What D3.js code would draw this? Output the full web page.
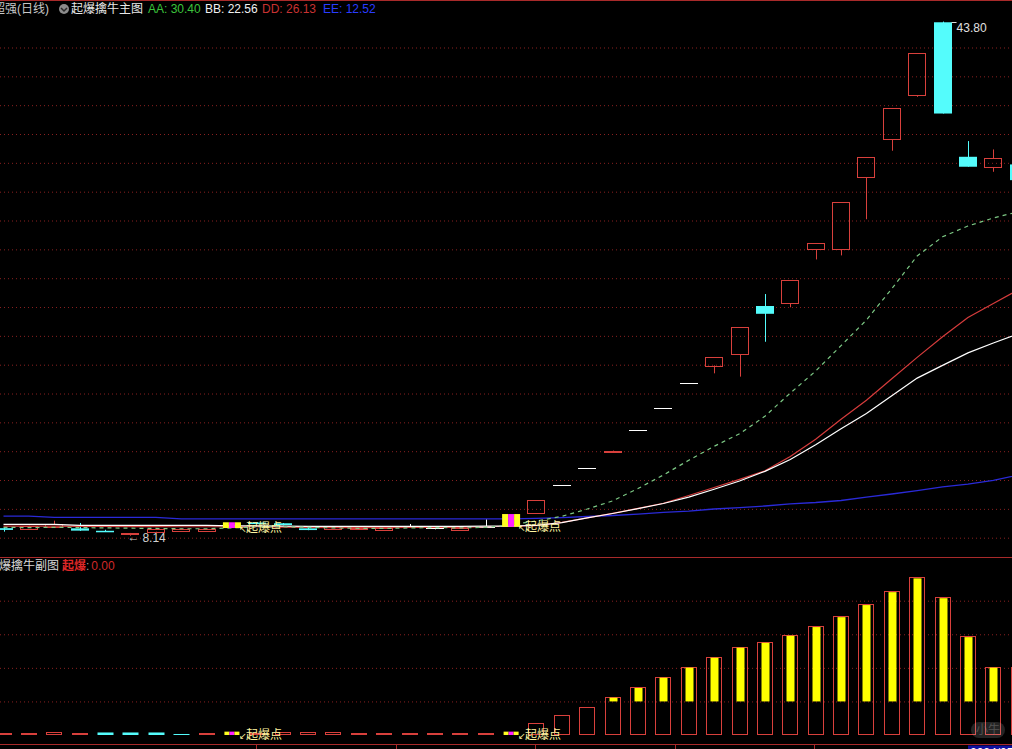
<!DOCTYPE html>
<html>
<head>
<meta charset="utf-8">
<script src="https://cdn.jsdelivr.net/npm/d3@7"></script>
<style>
body { margin: 0; background: #000; overflow: hidden; }
svg { display: block; }
text { font-family: "Liberation Sans", "Noto Sans CJK SC", sans-serif; font-size: 12px; }
</style>
</head>
<body>
<div class="chart"></div>
<script>
var opens  = [8.66, 8.58, 8.69, 8.65, 8.48, 8.21, 8.42, 8.44, 8.42, 8.67, 9.05, 9.00, 8.65, 8.58, 8.66, 8.53, 8.76, 8.69, 8.53, 8.76,
              8.76, 9.73, 11.64, 12.81, 14.01, 15.45, 16.97, 18.71, 19.95, 20.72, 24.07, 24.25, 27.99, 27.99, 33.01, 35.63, 38.70, 43.75, 34.42, 33.66, 33.89];
var highs  = [8.70, 8.83, 9.18, 9.02, 8.55, 8.33, 8.62, 8.62, 8.60, 9.07, 9.08, 9.02, 8.68, 8.76, 8.72, 8.67, 8.95, 8.81, 8.67, 9.28,
              9.64, 10.61, 11.64, 12.81, 14.07, 15.45, 16.97, 18.71, 20.55, 22.59, 24.90, 25.86, 28.41, 31.26, 34.40, 37.77, 41.59, 43.80, 35.51, 34.93, 33.89];
var lows   = [8.42, 8.56, 8.67, 8.47, 8.40, 8.14, 8.40, 8.42, 8.40, 8.67, 8.96, 8.86, 8.52, 8.56, 8.63, 8.51, 8.74, 8.58, 8.51, 8.74,
              8.76, 9.73, 11.64, 12.81, 13.98, 15.45, 16.97, 18.71, 19.40, 19.17, 21.59, 23.98, 27.30, 27.58, 30.09, 34.84, 38.58, 37.42, 33.73, 33.38, 32.80];
var closes = [8.54, 8.81, 8.93, 8.49, 8.44, 8.31, 8.60, 8.60, 8.58, 9.07, 8.98, 8.88, 8.53, 8.74, 8.69, 8.65, 8.76, 8.69, 8.65, 8.76,
              9.64, 10.61, 11.64, 12.81, 14.04, 15.45, 16.97, 18.71, 20.55, 22.59, 23.53, 25.86, 28.41, 31.26, 34.40, 37.77, 41.59, 37.42, 33.73, 34.31, 32.80];

var lineAA = [8.72, 8.70, 8.72, 8.70, 8.68, 8.66, 8.64, 8.62, 8.62, 8.68, 8.74, 8.76, 8.72, 8.68, 8.65, 8.64, 8.68, 8.70, 8.68, 8.72,
              8.90, 9.16, 9.48, 9.99, 10.55, 11.41, 12.35, 13.37, 14.34, 15.21, 16.42, 18.03, 19.56, 21.32, 23.10, 25.27, 27.54, 28.87, 29.62, 30.17, 30.62];
var lineBB = [8.93, 8.93, 8.93, 8.86, 8.86, 8.86, 8.86, 8.86, 8.86, 8.82, 8.82, 8.80, 8.78, 8.78, 8.78, 8.78, 8.78, 8.78, 8.78, 8.80,
              8.81, 8.86, 9.05, 9.37, 9.68, 10.02, 10.37, 10.81, 11.36, 11.93, 12.60, 13.42, 14.44, 15.56, 16.61, 17.85, 19.07, 19.95, 20.82, 21.50, 22.16];
var lineDD = [8.80, 8.80, 8.80, 8.79, 8.78, 8.77, 8.77, 8.76, 8.76, 8.76, 8.76, 8.74, 8.72, 8.70, 8.70, 8.70, 8.71, 8.71, 8.72, 8.76,
              8.80, 8.84, 9.06, 9.37, 9.69, 10.04, 10.39, 10.93, 11.48, 12.05, 12.64, 13.63, 14.83, 16.22, 17.54, 19.03, 20.51, 21.94, 23.27, 24.25, 25.21];
var lineEE = [9.50, 9.50, 9.41, 9.41, 9.41, 9.41, 9.41, 9.30, 9.30, 9.30, 9.30, 9.30, 9.30, 9.30, 9.30, 9.30, 9.30, 9.30, 9.30, 9.30,
              9.31, 9.34, 9.39, 9.47, 9.54, 9.64, 9.75, 9.85, 9.99, 10.09, 10.20, 10.34, 10.44, 10.58, 10.82, 11.03, 11.27, 11.52, 11.72, 11.97, 12.35];

var subValues = [1.2, 1.2, 2.0, 1.2, 1.5, 1.5, 1.5, 0.6, 1.2, 2.0, 1.2, 2.0, 2.0, 2.0, 1.2, 1.2, 1.2, 1.2, 1.2, 1.2,
                 2.0, 7.0, 11.9, 16.8, 22.8, 28.6, 34.7, 40.7, 46.6, 52.6, 55.5, 59.7, 64.9, 70.8, 78.0, 85.7, 93.9, 82.1, 58.9, 40.7, 40.5];
var subDown = [4, 5, 6, 7];
var subThreshold = 20;
var burstBars = [9, 20];

var priceTicks = [8, 10, 12, 14, 16, 18, 20, 22, 24, 26, 28, 30, 32, 34, 36, 38, 40, 42];
var subTicks = [20, 40, 60, 80];
var dateTicks = [9.95, 15.45, 20.95, 26.45, 31.95];

var legendNames = ["AA", "BB", "DD", "EE"];
var legendValues = [30.40, 22.56, 26.13, 12.52];

var width = 1012, height = 749;
var RED = "#d8403c", CYAN = "#54fcfc", GRID = "#8a2020", FRAME = "#a82a2a";

var svg = d3.select(".chart").append("svg").attr("width", width).attr("height", height);
svg.append("rect").attr("width", width).attr("height", height).attr("fill", "#000");

var xScale = d3.scaleLinear().domain([0, 40]).range([3.5, 1018.7]);
var yScale = d3.scaleLinear().domain([8, 42]).range([537.7, 47.5]);
var subScale = d3.scaleLinear().domain([0, 80]).range([735, 600.7]);

function px(v) { return Math.round(v) + 0.5; }

// dotted gridlines
var yGrid = d3.axisRight(yScale).tickValues(priceTicks).tickSize(width).tickFormat("");
svg.append("g").attr("class", "grid").call(yGrid);
var subGrid = d3.axisRight(subScale).tickValues(subTicks).tickSize(width).tickFormat("");
svg.append("g").attr("class", "grid").call(subGrid);
svg.selectAll(".grid .domain").remove();
svg.selectAll(".grid line").attr("stroke", GRID).attr("stroke-dasharray", "1,3");

// frame lines
[0.5, 557.5, 744.5].forEach(y => {
  svg.append("line").attr("x1", 0).attr("x2", width).attr("y1", y).attr("y2", y)
    .attr("stroke", FRAME).attr("stroke-width", 1);
});

var main = svg.append("g").attr("class", "candles");
var idx = d3.range(opens.length);

idx.forEach(i => {
  if (burstBars.indexOf(i) >= 0) return;
  var x = px(xScale(i));
  var o = opens[i], c = closes[i], h = highs[i], l = lows[i];
  var top = yScale(Math.max(o, c)), bot = yScale(Math.min(o, c));
  if (o === c) {
    var y = px(yScale(o));
    main.append("line").attr("x1", x).attr("x2", x).attr("y1", yScale(h)).attr("y2", yScale(l)).attr("stroke", "#fff");
    main.append("line").attr("x1", x - 9.5).attr("x2", x + 8.5).attr("y1", y).attr("y2", y).attr("stroke", "#fff");
  } else if (c > o) {
    main.append("line").attr("x1", x).attr("x2", x).attr("y1", yScale(h)).attr("y2", top).attr("stroke", RED);
    main.append("line").attr("x1", x).attr("x2", x).attr("y1", bot).attr("y2", yScale(l)).attr("stroke", RED);
    main.append("rect").attr("x", x - 9).attr("y", px(top)).attr("width", 17)
      .attr("height", Math.max(1, Math.round(bot - top))).attr("fill", "none").attr("stroke", RED);
  } else {
    main.append("line").attr("x1", x).attr("x2", x).attr("y1", yScale(h)).attr("y2", yScale(l)).attr("stroke", CYAN);
    main.append("rect").attr("x", x - 9.5).attr("y", top).attr("width", 18)
      .attr("height", Math.max(1.5, bot - top)).attr("fill", CYAN);
  }
});

// indicator lines
var lineGen = d3.line().x((d, i) => xScale(i)).y(d => yScale(d));
svg.append("path").datum(lineEE).attr("d", lineGen).attr("fill", "none").attr("stroke", "#2a2ad8").attr("stroke-width", 1.3);
svg.append("path").datum(lineDD).attr("d", lineGen).attr("fill", "none").attr("stroke", "#d63c3c").attr("stroke-width", 1.2);
svg.append("path").datum(lineBB).attr("d", lineGen).attr("fill", "none").attr("stroke", "#ffffff").attr("stroke-width", 1.2);
svg.append("path").datum(lineAA).attr("d", lineGen).attr("fill", "none").attr("stroke", "#7cc884")
  .attr("stroke-width", 1.2).attr("stroke-dasharray", "4,4");

// striped burst markers
function stripes(g, x, y0, y1, w) {
  var sw = w / 3;
  ["#ffff20", "#ff20ff", "#ffff20"].forEach((col, k) => {
    g.append("rect").attr("x", x - w / 2 + k * sw).attr("y", y0).attr("width", sw).attr("height", y1 - y0).attr("fill", col);
  });
}
function burstLabel(x, y, arrow) {
  var t = svg.append("text").attr("x", x + 7).attr("y", y).attr("dy", "0.36em").attr("fill", "#fff5a0");
  t.append("tspan").attr("font-size", 9).attr("font-family", "DejaVu Sans").text(arrow);
  t.append("tspan").attr("x", x + 14).text("起爆点");
}
burstBars.forEach(i => {
  var x = xScale(i);
  stripes(svg, x, yScale(closes[i]), yScale(opens[i]), 18);
  stripes(svg, x, subScale(subValues[i]), subScale(0), 15);
});

// sub panel sticks
var sub = svg.append("g").attr("class", "sub");
idx.forEach(i => {
  if (burstBars.indexOf(i) >= 0) return;
  var x = px(xScale(i));
  var v = subValues[i];
  var y0 = subScale(0), y1 = subScale(v);
  if (subDown.indexOf(i) >= 0) {
    sub.append("rect").attr("x", x - 8).attr("y", y1).attr("width", 16).attr("height", y0 - y1).attr("fill", CYAN);
  } else {
    sub.append("rect").attr("x", x - 8).attr("y", px(y1)).attr("width", 15)
      .attr("height", Math.max(1, Math.round(y0 - y1) - 1)).attr("fill", "none").attr("stroke", RED);
    if (v > subThreshold) {
      sub.append("rect").attr("x", x - 4).attr("y", y1 + 1).attr("width", 8)
        .attr("height", subScale(subThreshold) - y1 - 1).attr("fill", "#ffff00");
    }
  }
});

burstBars.forEach(i => {
  burstLabel(xScale(i), yScale(opens[i]), "↖");
  burstLabel(xScale(i), subScale(0) - 0.5, "↙");
});

// high / low marks
var hi = 37, lo = 5;
svg.append("line").attr("x1", xScale(hi) + 9).attr("x2", xScale(hi) + 14)
  .attr("y1", px(yScale(highs[hi]))).attr("y2", px(yScale(highs[hi]))).attr("stroke", "#ddd");
svg.append("text").attr("x", xScale(hi) + 14).attr("y", yScale(highs[hi]) + 6).attr("dy", "0.36em")
  .attr("fill", "#e0e0e0").text(highs[hi].toFixed(2));
svg.append("text").attr("x", xScale(lo) - 3).attr("y", yScale(lows[lo]) + 1).attr("dy", "0.36em")
  .attr("fill", "#d0d0d0").attr("font-size", 10).attr("font-family", "DejaVu Sans").text("←");
svg.append("text").attr("x", xScale(lo) + 12).attr("y", yScale(lows[lo]) + 1.5).attr("dy", "0.36em")
  .attr("fill", "#d0d0d0").text(lows[lo].toFixed(2));

// title rows
var head = svg.append("g").attr("class", "header");
head.append("text").attr("x", -7).attr("y", 13).attr("fill", "#c8c8c8").text("超强(日线)");
head.append("circle").attr("cx", 64).attr("cy", 9).attr("r", 5).attr("fill", "#8c8c8c");
head.append("path").attr("d", "M61,8 L64,11 L67,8").attr("fill", "none").attr("stroke", "#2a2a2a").attr("stroke-width", 1.5);
head.append("text").attr("x", 71).attr("y", 13).attr("fill", "#e8e8e8").text("起爆擒牛主图");
var legendColors = ["#3cc43c", "#f0f0f0", "#c83232", "#2a3cff"];
var legendX = [148, 205, 262, 323];
legendNames.forEach((n, k) => {
  head.append("text").attr("x", legendX[k]).attr("y", 13).attr("fill", legendColors[k])
    .text(n + ": " + legendValues[k].toFixed(2));
});

head.append("text").attr("x", -1).attr("y", 570).attr("fill", "#d8d8d8").text("爆擒牛副图");
var subLab = head.append("text").attr("x", 62).attr("y", 570);
subLab.append("tspan").attr("fill", "#e02828").attr("font-weight", "bold").text("起爆");
subLab.append("tspan").attr("fill", "#a0a0a0").text(":");
subLab.append("tspan").attr("fill", "#d02828").attr("dx", 2).text("0.00");

// date axis strip
dateTicks.forEach(t => {
  svg.append("line").attr("x1", px(xScale(t))).attr("x2", px(xScale(t))).attr("y1", 745).attr("y2", 749).attr("stroke", FRAME);
});
svg.append("rect").attr("x", 968).attr("y", 745.5).attr("width", 44).attr("height", 10).attr("fill", "#1010a0");
svg.append("text").attr("x", 970).attr("y", 757).attr("fill", "#fff").text("2024/05");

// faint watermark
svg.append("rect").attr("x", 971).attr("y", 722).attr("width", 34).attr("height", 16).attr("rx", 8)
  .attr("fill", "#c8c8c8").attr("opacity", 0.18);
svg.append("text").attr("x", 988).attr("y", 730).attr("dy", "0.36em").attr("text-anchor", "middle")
  .attr("font-size", 10).attr("fill", "#888").attr("opacity", 0.45).text("小牛");
</script>
</body>
</html>
